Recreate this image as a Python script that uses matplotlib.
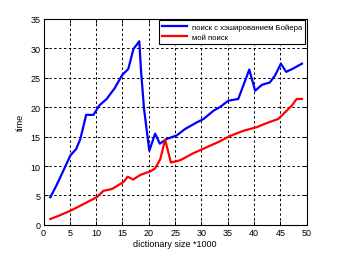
import matplotlib
matplotlib.use('Agg')
import matplotlib.pyplot as plt

# blue: search with hashing
x_hash = [1.3, 2.5, 3.5, 5.1, 6.2, 7.0, 8.1, 9.5, 10.6, 12.0, 13.5, 14.9, 16.1,
          17.1, 18.2, 18.5, 19.1, 20.1, 21.2, 22.1, 23.4, 25.3, 26.9, 29.1, 30.4,
          32.3, 33.5, 35.1, 37.0, 39.1, 40.2, 41.5, 43.0, 44.0, 45.1, 46.1, 47.5, 49.1]
y_hash = [4.7, 6.8, 8.7, 11.8, 12.9, 14.6, 18.7, 18.7, 20.3, 21.4, 23.2, 25.4, 26.5,
          29.9, 31.2, 26.5, 19.7, 12.6, 15.5, 13.8, 14.6, 15.2, 16.3, 17.4, 18.0,
          19.4, 20.0, 21.1, 21.4, 26.4, 22.8, 23.8, 24.2, 25.4, 27.4, 26.0, 26.6, 27.4]

# red: my search
x_my = [1.3, 3.0, 5.1, 7.5, 10.1, 11.4, 13.0, 15.2, 16.0, 17.0, 18.4, 20.3, 21.2,
        22.2, 23.1, 24.2, 26.0, 28.5, 31.0, 33.5, 35.4, 38.0, 40.5, 42.4, 44.6,
        46.2, 47.2, 48.1, 49.1]
y_my = [1.0, 1.6, 2.4, 3.5, 4.7, 5.8, 6.1, 7.3, 8.2, 7.7, 8.5, 9.1, 9.6,
        11.2, 14.5, 10.6, 11.0, 12.2, 13.2, 14.2, 15.1, 16.0, 16.6, 17.3, 18.0,
        19.4, 20.3, 21.4, 21.4]

labels = ['поиск с хэшированием Бойера', 'мой поиск']

plt.rcParams['font.family'] = ['Liberation Sans', 'DejaVu Sans']
plt.rcParams['font.size'] = 6.5

fig = plt.figure(figsize=(3.4, 2.55), dpi=100)
ax = fig.add_axes([0.128, 0.114, 0.774, 0.808])

ax.plot(x_hash, y_hash, color='#0000ff', lw=1.6, label=labels[0])
ax.plot(x_my, y_my, color='#ff0000', lw=1.6, label=labels[1])

ax.set_xlim(0, 50)
ax.set_ylim(0, 35)
ax.set_xticks(range(0, 51, 5))
ax.set_yticks(range(0, 36, 5))
ax.grid(True, color='black', linestyle=(0, (2.5, 2.5)), linewidth=0.7)
ax.tick_params(direction='in', top=True, right=True, length=3, width=0.7, pad=2)
for s in ax.spines.values():
    s.set_linewidth(0.8)

ax.set_xlabel('dictionary size *1000', labelpad=2)
ax.set_ylabel('time', labelpad=4)

leg = ax.legend(loc='upper right', fancybox=False, framealpha=1, edgecolor='black',
                borderaxespad=0.2, handlelength=3.3, borderpad=0.35, labelspacing=0.35,
                fontsize=5.6, handletextpad=0.6)
leg.get_frame().set_linewidth(0.8)

fig.savefig('out.png', dpi=100)
